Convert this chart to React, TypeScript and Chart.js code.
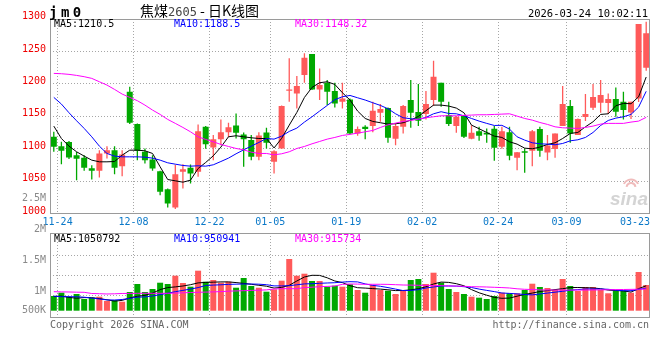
import React, { useEffect, useRef } from "react";
import { Chart, registerables } from "chart.js";

Chart.register(...registerables);

// ---------------- data ----------------
const dates = [
  "11-24","11-25","11-26","11-27","11-28","12-01","12-02","12-03","12-04","12-05",
  "12-08","12-09","12-10","12-11","12-12","12-15","12-16","12-17","12-18","12-19",
  "12-22","12-23","12-24","12-25","12-26","12-29","12-30","12-31","01-05","01-06",
  "01-07","01-08","01-09","01-12","01-13","01-14","01-15","01-16","01-19","01-20",
  "01-21","01-22","01-23","01-26","01-27","01-28","01-29","01-30","02-02","02-03",
  "02-04","02-05","02-06","02-09","02-10","02-11","02-12","02-13","02-24","02-25",
  "02-26","02-27","03-02","03-03","03-04","03-05","03-06","03-09","03-10","03-11",
  "03-12","03-13","03-16","03-17","03-18","03-19","03-20","03-23","03-24",
];

const open = [
  1118.3,1103.9,1110.1,1090,1085.9,1069.9,1065.8,1092.6,1097.7,1073,
  1187.8,1137.9,1095.2,1083.3,1065.3,1037.5,1009.2,1064.3,1070.4,1064.3,
  1133.8,1101.8,1114.7,1125.5,1135.8,1121.9,1113.2,1087.4,1125,1079.7,
  1100.3,1189.3,1185.2,1213.5,1246,1191.4,1201.7,1188.8,1172.4,1176,
  1123.5,1133.7,1134.8,1155.4,1162.6,1115.2,1133.7,1175,1156.4,1153.3,
  1174.9,1201.7,1151.8,1134.8,1150.7,1115.2,1127,1124.5,1130.7,1102.9,
  1125.5,1085.9,1096.2,1096.7,1130.2,1094.1,1099.3,1134.8,1165.7,1120.9,
  1148.7,1163.1,1170.8,1170.3,1176.5,1172.4,1155.9,1177.5,1224.9,
];
const high = [
  1126,1110.6,1112,1095,1090,1074.6,1097.7,1103.9,1103.9,1097.7,
  1195.5,1139,1100.3,1090,1066,1038.5,1075.1,1076,1075.6,1137.4,
  1135,1120.9,1145.1,1140,1154.3,1125,1120.9,1125.5,1132.2,1097.7,
  1166.5,1239.3,1212,1247,1246,1223.8,1205.8,1201.7,1201.7,1177.5,
  1134,1136.3,1172.4,1168.8,1163.6,1139,1167.2,1205.8,1199.6,1188.8,
  1235.7,1201.7,1172.4,1150.2,1151.8,1136.3,1133.7,1131.2,1134.8,1133.7,
  1133.7,1094.7,1100.3,1128.6,1133.7,1120.9,1123.5,1196.5,1175,1146.6,
  1184.2,1199.6,1205.8,1185.2,1194.5,1187.8,1172.4,1292.3,1295.9,
];
const low = [
  1095.2,1076.1,1084,1051.4,1065.8,1052.4,1055.5,1084.9,1060.7,1057.6,
  1137.9,1082.3,1077.1,1065.8,1028.3,1009.2,1007.1,1038.5,1046.3,1056.6,
  1100,1082.3,1105.4,1118,1115.7,1072,1082.3,1082.3,1100.3,1061.7,
  1099.8,1172.3,1162.1,1201.7,1190.4,1175,1167.2,1163.6,1162.1,1122.4,
  1120,1114.7,1125.5,1141.5,1109,1105.4,1123.5,1132.2,1134.8,1145.1,
  1165.7,1164.6,1134.8,1124.5,1116.3,1114.7,1112.1,1109,1081.3,1099.8,
  1082.3,1066.8,1062.7,1073,1087.4,1082.3,1085.9,1134.8,1109,1120.9,
  1142.5,1159.5,1155.4,1153.3,1149.2,1145.1,1145.6,1172,1220.2,
];
const close = [
  1102.9,1096.7,1086.4,1084.3,1070.4,1065.8,1092.6,1097.7,1070.4,1091,
  1139.9,1096.7,1082.3,1069.4,1033.4,1015.4,1060.7,1068.3,1061.7,1127,
  1107,1114.7,1125.5,1133.2,1124.5,1114.7,1087.4,1120.4,1109,1096.2,
  1165.7,1191.4,1196.5,1240.3,1191.4,1198.1,1187.8,1169.8,1177.5,1123.5,
  1130.2,1130.2,1158.5,1161,1116.8,1134.8,1165.7,1155.4,1143,1168.8,
  1211,1172.4,1137.9,1149.2,1118.3,1124.5,1119.9,1121.9,1101.3,1127,
  1089,1094.6,1093.6,1127,1096.7,1104.9,1123.5,1168.8,1123.5,1145.6,
  1153.3,1179.6,1182.6,1176.5,1157,1159.5,1172.4,1292.3,1277.9,
];

const ma5 = [
  1134.8,1115.7,1103.9,1095.2,1088.5,1082.3,1079.7,1079.7,1080.2,1090,
  1097.7,1097.7,1096.7,1092.6,1072,1052.4,1050.4,1048.3,1051.4,1069.4,
  1078.7,1089,1102.4,1118.3,1119.9,1118.3,1116.8,1115.7,1115.7,1101.1,
  1115.9,1136.3,1155.9,1179,1194.5,1201.7,1203.2,1199.1,1186.3,1175,
  1158,1146.6,1142,1140,1137.9,1138.4,1140,1144,1149.7,1158.5,
  1167.2,1167.2,1165.7,1162.6,1155.4,1136.3,1130.7,1125,1119.3,1117.3,
  1110.6,1107,1100.8,1099.8,1102.4,1106.5,1109.1,1115.7,1123.5,1125,
  1133.7,1141.5,1152.8,1153.8,1166.2,1169.8,1169.3,1180,1210.5,
];
const ma10 = [
  1179.1,1168.8,1155.4,1143,1131.2,1118.3,1103.9,1092.6,1088.5,1087.4,
  1087.4,1087.4,1086.9,1085.4,1082.3,1078.2,1076.1,1074.1,1073,1073.6,
  1073,1075.1,1080.2,1085.4,1092.1,1098.2,1103.9,1109.6,1115.7,1114.7,
  1119.3,1126.6,1131.7,1141,1149.2,1158,1166.7,1175.5,1180.1,1182.1,
  1178.5,1175,1170.8,1166.7,1161.6,1153.8,1147.7,1146.1,1145.1,1148.2,
  1153.8,1157,1154.3,1153.8,1150.7,1146.6,1142.5,1139,1135.8,1136,
  1130.2,1118.3,1113.2,1109.1,1107.5,1107,1106,1108,1112.1,1113.7,
  1117.3,1125,1135.8,1143.5,1147.1,1149.2,1152.8,1164.1,1188.5,
];
const ma30 = [
  1216.1,1215.6,1214.6,1213,1211,1208.4,1203.2,1198.1,1191.4,1184.2,
  1179.1,1174,1167.2,1159.5,1152.8,1145.1,1139,1132.7,1126,1118.3,
  1114.2,1110.6,1106.5,1103.4,1100.3,1098.2,1094.6,1092.6,1092.6,1090.5,
  1092.1,1095.2,1100.3,1103.4,1107.5,1111.1,1114.7,1117.3,1120.4,1122,
  1124,1126,1128.1,1132.7,1136.8,1139.4,1142,1143.5,1145.6,1147.7,
  1149.2,1150.7,1150.7,1150.7,1151.3,1151.8,1152.3,1152.3,1152.8,1153.3,
  1153.8,1150.2,1146.6,1144,1140.4,1137.4,1133.7,1132.2,1131.7,1131.2,
  1132.7,1134.8,1137.9,1139,1139,1139,1141,1142.5,1148.32,
];

// volume in thousands (K)
const volumeK = [
  620,760,591,705,494,549,591,409,451,380,
  789,1127,789,916,1181,1127,1477,1169,1013,1688,
  1224,1295,1181,1224,970,1380,1042,970,802,899,
  1266,2181,1477,1561,1253,1253,1013,1055,1013,1114,
  873,759,1084,873,844,705,844,1295,1338,1127,
  1603,1181,916,789,705,591,549,494,620,759,
  734,734,873,1139,1000,958,873,1338,1042,831,
  1000,1000,873,734,844,844,759,1633,1084,
];
const volMa5K = [
  599,616,561,527,553,549,511,460,405,435,
  536,608,646,743,890,975,1004,1042,1097,1173,
  1194,1203,1215,1215,1186,1152,1114,1072,1034,954,
  983,1072,1253,1422,1494,1489,1388,1253,1185,1055,
  970,954,933,911,882,848,852,878,928,1008,
  1127,1207,1194,1139,1051,890,755,654,561,523,
  532,612,688,743,810,848,890,928,975,979,
  970,958,928,869,852,835,785,930,1050.792,
];
const volMa10K = [
  612,591,591,586,570,532,494,456,451,473,
  519,570,582,620,675,738,802,857,911,975,
  1063,1080,1093,1110,1118,1127,1127,1118,1097,1046,
  1046,1055,1093,1131,1139,1156,1169,1181,1207,1224,
  1215,1131,1068,1030,975,911,848,857,886,958,
  1000,1042,1042,1038,1013,979,911,857,806,747,
  730,709,684,667,705,743,781,819,865,890,
  916,916,916,903,865,844,844,900,950.941,
];
const volMa30K = [
  802,793,789,781,776,726,717,705,713,726,
  730,734,734,734,734,734,743,755,768,776,
  785,793,806,823,835,844,857,865,878,916,
  928,928,928,975,992,1013,1025,1042,1110,1127,
  1122,1114,1114,1114,1110,1097,1084,1080,1072,1068,
  1059,1055,1046,1038,1030,1013,1008,1000,987,975,
  958,924,903,895,878,873,870,870,870,870,
  870,875,880,885,890,895,900,905,915.734,
];

const dateTicks = ["11-24","12-08","12-22","01-05","01-19","02-02","02-24","03-09","03-23"];
const priceTicks = [1300, 1250, 1200, 1150, 1100, 1050, 1000];
const volTickValuesK = [2500, 2000, 1500, 1000, 500];
const volTickLabels = ["2.5M", "2M", "1.5M", "1M", "500K"];

const symbolText = "jm0";
const titleParts = ["焦煤", "2605", " - 日K线图"];
const stampText = "2026-03-24 10:02:11";
const priceLegend = ["MA5:1210.5", "MA10:1188.5", "MA30:1148.32"];
const volLegend = ["MA5:1050792", "MA10:950941", "MA30:915734"];
const copyrightText = "Copyright 2026 SINA.COM";
const urlText = "http://finance.sina.com.cn";

// ---------------- styles ----------------
const UP = "#ff5a5a";
const DOWN = "#00a800";
const MA_COLORS = ["#000000", "#0000ff", "#ff00ff"];
const GRID = "#a6a6a6";
const BORDER = "#9a9a9a";
const MONO = "'DejaVu Sans Mono', 'Liberation Mono', monospace";
const LEGEND_X = [54, 174, 295];

const candleColors = close.map((c, i) => (c >= open[i] ? UP : DOWN));

function line(ctx: CanvasRenderingContext2D, x1: number, y1: number, x2: number, y2: number) {
  ctx.beginPath();
  ctx.moveTo(x1, y1);
  ctx.lineTo(x2, y2);
  ctx.stroke();
}

function gridXs(chart: any): number[] {
  const x = chart.scales.x;
  const a = chart.chartArea;
  const slot = x.getPixelForValue(1) - x.getPixelForValue(0);
  const out: number[] = [];
  dateTicks.forEach((d) => {
    const i = dates.indexOf(d);
    out.push(x.getPixelForValue(i) + slot / 2);
  });
  return out.filter((p) => p < a.right - 10);
}

function drawDateLabels(chart: any, ctx: CanvasRenderingContext2D) {
  const x = chart.scales.x;
  const a = chart.chartArea;
  const slot = x.getPixelForValue(1) - x.getPixelForValue(0);
  ctx.font = `10px ${MONO}`;
  ctx.fillStyle = "#0a78c8";
  ctx.textAlign = "center";
  ctx.textBaseline = "alphabetic";
  dateTicks.forEach((d) => {
    const i = dates.indexOf(d);
    let px = x.getPixelForValue(i) + slot / 2;
    const w = ctx.measureText(d).width;
    if (px + w / 2 > a.right) px = a.right - w / 2;
    ctx.fillText(d, px, a.bottom + 11.5);
  });
}

const mainDecor = {
  id: "mainDecor",
  beforeDatasetsDraw(chart: any) {
    const { ctx, chartArea: a, scales } = chart;
    const y = scales.y;
    ctx.save();
    ctx.strokeStyle = GRID;
    ctx.lineWidth = 1;
    ctx.setLineDash([1, 2]);
    priceTicks.forEach((v) => {
      if (v <= 1000 || v >= 1300) return;
      const py = Math.floor(y.getPixelForValue(v)) + 0.5;
      line(ctx, a.left, py, a.right, py);
    });
    gridXs(chart).forEach((px) => {
      const xx = Math.floor(px) + 0.5;
      line(ctx, xx, a.top, xx, a.bottom);
    });
    ctx.setLineDash([]);
    ctx.fillStyle = "#d4d4d4";
    ctx.font = "italic bold 19px 'Liberation Sans', Arial, sans-serif";
    ctx.textAlign = "right";
    ctx.textBaseline = "alphabetic";
    ctx.fillText("sina", a.right - 2, a.bottom - 9);
    ctx.strokeStyle = "#f0bcbc";
    ctx.lineWidth = 2;
    ctx.beginPath();
    ctx.arc(a.right - 19, a.bottom - 26, 4.5, Math.PI * 1.05, Math.PI * 1.95);
    ctx.stroke();
    ctx.beginPath();
    ctx.arc(a.right - 19, a.bottom - 26, 8, Math.PI * 1.15, Math.PI * 1.85);
    ctx.stroke();
    ctx.restore();
  },
  afterDraw(chart: any) {
    const { ctx, chartArea: a, scales } = chart;
    const y = scales.y;
    ctx.save();
    ctx.strokeStyle = BORDER;
    ctx.lineWidth = 1;
    ctx.setLineDash([]);
    const L = Math.floor(a.left) + 0.5;
    const R = Math.ceil(a.right) - 0.5;
    const T = Math.floor(a.top) + 0.5;
    const B = Math.floor(a.bottom) + 0.5;
    ctx.strokeRect(L, T, R - L, B - T);

    ctx.font = `10px ${MONO}`;
    ctx.fillStyle = "#ee0000";
    ctx.textAlign = "right";
    ctx.textBaseline = "middle";
    priceTicks.forEach((v) => {
      ctx.fillText(String(v), a.left - 4, y.getPixelForValue(v) - 2.5);
    });

    drawDateLabels(chart, ctx);

    ctx.textBaseline = "alphabetic";
    ctx.textAlign = "left";
    ctx.fillStyle = "#000";
    ctx.font = `bold 14px ${MONO}`;
    (ctx as any).letterSpacing = "3.5px";
    ctx.fillText(symbolText, 49, 16.5);
    (ctx as any).letterSpacing = "0px";
    let tx = 140;
    const fonts = ["14px 'Noto Sans CJK SC', sans-serif", `12px ${MONO}`, "14px 'Noto Sans CJK SC', sans-serif"];
    const cols = ["#000", "#444", "#000"];
    titleParts.forEach((t, k) => {
      ctx.font = fonts[k];
      ctx.fillStyle = cols[k];
      ctx.fillText(t, tx, 15.5);
      tx += ctx.measureText(t).width;
    });
    ctx.fillStyle = "#000";
    ctx.font = `10.5px ${MONO}`;
    ctx.textAlign = "right";
    ctx.fillText(stampText, 648, 16.5);

    ctx.font = `10px ${MONO}`;
    ctx.textAlign = "left";
    priceLegend.forEach((t, k) => {
      ctx.fillStyle = MA_COLORS[k];
      ctx.fillText(t, LEGEND_X[k], a.top + 8);
    });
    ctx.restore();
  },
};

const volDecor = {
  id: "volDecor",
  beforeDatasetsDraw(chart: any) {
    const { ctx, chartArea: a } = chart;
    ctx.save();
    ctx.strokeStyle = GRID;
    ctx.lineWidth = 1;
    ctx.setLineDash([1, 2]);
    [0.26, 0.5, 0.74].forEach((f) => {
      const py = Math.floor(a.top + (a.bottom - a.top) * f) + 0.5;
      line(ctx, a.left, py, a.right, py);
    });
    gridXs(chart).forEach((px) => {
      const xx = Math.floor(px) + 0.5;
      line(ctx, xx, a.top, xx, a.bottom);
    });
    ctx.restore();
  },
  afterDraw(chart: any) {
    const { ctx, chartArea: a } = chart;
    ctx.save();
    ctx.strokeStyle = BORDER;
    ctx.lineWidth = 1;
    const L = Math.floor(a.left) + 0.5;
    const R = Math.ceil(a.right) - 0.5;
    const T = Math.floor(a.top) + 0.5;
    const B = Math.ceil(a.bottom) - 0.5;
    ctx.strokeRect(L, T, R - L, B - T);

    ctx.font = `10px ${MONO}`;
    ctx.fillStyle = "#8a8a8a";
    ctx.textAlign = "right";
    ctx.textBaseline = "middle";
    volTickValuesK.forEach((v, k) => {
      let py = a.bottom + 34.4 - v * 0.0614;
      if (py > a.bottom - 8) py = a.bottom - 8;
      ctx.fillText(volTickLabels[k], a.left - 4, py);
    });

    ctx.textBaseline = "alphabetic";
    ctx.textAlign = "left";
    volLegend.forEach((t, k) => {
      ctx.fillStyle = MA_COLORS[k];
      ctx.fillText(t, LEGEND_X[k], a.top + 8.5);
    });

    ctx.fillStyle = "#666";
    ctx.fillText(copyrightText, a.left, a.bottom + 9.5);
    ctx.textAlign = "right";
    ctx.fillText(urlText, a.right - 1, a.bottom + 9.5);
    ctx.restore();
  },
};

function lineDs(data: number[], color: string) {
  return {
    type: "line" as const,
    data,
    borderColor: color,
    borderWidth: 1,
    pointRadius: 0,
    pointHoverRadius: 0,
    fill: false,
    tension: 0,
    order: 0,
  };
}

export default function App() {
  const mainRef = useRef<HTMLCanvasElement>(null);
  const volRef = useRef<HTMLCanvasElement>(null);

  useEffect(() => {
    const common: any = {
      responsive: false,
      animation: false,
      devicePixelRatio: 1,
      events: [],
      plugins: { legend: { display: false }, tooltip: { enabled: false }, title: { display: false } },
    };

    const main = new Chart(mainRef.current as HTMLCanvasElement, {
      type: "bar",
      data: {
        labels: dates,
        datasets: [
          {
            type: "bar",
            data: low.map((l, i) => [l, high[i]]) as any,
            backgroundColor: candleColors,
            barThickness: 1.3,
            inflateAmount: 0,
            grouped: false,
            order: 2,
          } as any,
          {
            type: "bar",
            data: open.map((o, i) => [o, close[i]]) as any,
            backgroundColor: candleColors,
            barThickness: 6,
            inflateAmount: 0,
            minBarLength: 1,
            grouped: false,
            order: 1,
          } as any,
          lineDs(ma30, MA_COLORS[2]),
          lineDs(ma10, MA_COLORS[1]),
          lineDs(ma5, MA_COLORS[0]),
        ],
      },
      options: {
        ...common,
        layout: { padding: { left: 50, right: 10, top: 19, bottom: 146.5 } },
        scales: {
          x: { type: "category", offset: true, display: false, grid: { display: false } },
          y: { type: "linear", min: 1000, max: 1300, display: false, grid: { display: false } },
        },
      },
      plugins: [mainDecor],
    });

    const vol = new Chart(volRef.current as HTMLCanvasElement, {
      type: "bar",
      data: {
        labels: dates,
        datasets: [
          {
            type: "bar",
            data: volumeK,
            backgroundColor: candleColors,
            barThickness: 6,
            inflateAmount: 0,
            grouped: false,
            order: 1,
          } as any,
          lineDs(volMa30K, MA_COLORS[2]),
          lineDs(volMa10K, MA_COLORS[1]),
          lineDs(volMa5K, MA_COLORS[0]),
        ],
      },
      options: {
        ...common,
        layout: { padding: { left: 50, right: 10, top: 233, bottom: 42 } },
        scales: {
          x: { type: "category", offset: true, display: false, grid: { display: false } },
          y: { type: "linear", min: -308, max: 3278, display: false, grid: { display: false } },
        },
      },
      plugins: [volDecor],
    });

    return () => {
      main.destroy();
      vol.destroy();
    };
  }, []);

  return (
    <div
      style={{
        position: "fixed",
        left: 0,
        top: 0,
        width: 660,
        height: 360,
        background: "#ffffff",
        overflow: "hidden",
      }}
    >
      <canvas
        ref={mainRef}
        width={660}
        height={360}
        style={{ position: "absolute", left: 0, top: 0, width: 660, height: 360 }}
      />
      <canvas
        ref={volRef}
        width={660}
        height={360}
        style={{ position: "absolute", left: 0, top: 0, width: 660, height: 360 }}
      />
    </div>
  );
}
